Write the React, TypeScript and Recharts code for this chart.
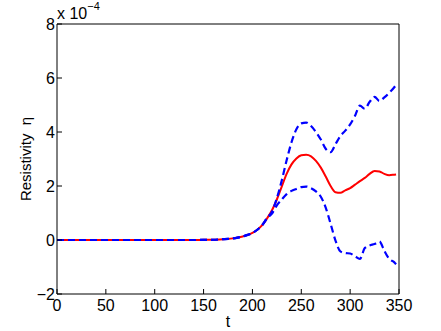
import { LineChart, Line, XAxis, YAxis } from "recharts";

// time samples (t) and resistivity values in units of 1e-4
const tValues = [
  0, 50, 100, 140, 150, 160, 170, 175, 180, 185, 190, 195, 200, 205, 210, 215, 220, 225, 230, 235,
  240, 245, 250, 255, 260, 265, 270, 275, 280, 285, 290, 295, 300, 305, 310, 315, 320, 325, 330, 335,
  340, 345, 347,
];
const etaMean = [
  0, 0, 0, 0, 0.005, 0.01, 0.03, 0.04, 0.06, 0.09, 0.13, 0.19, 0.26, 0.38, 0.55, 0.8, 1.1, 1.5, 1.98, 2.45,
  2.8, 3.02, 3.14, 3.16, 3.1, 2.93, 2.68, 2.35, 2.0, 1.77, 1.75, 1.84, 1.92, 2.05, 2.18, 2.3, 2.45, 2.56, 2.54, 2.45,
  2.4, 2.42, 2.43,
];
const etaUpper = [
  0, 0, 0, 0, 0.005, 0.01, 0.03, 0.04, 0.06, 0.09, 0.13, 0.19, 0.26, 0.38, 0.55, 0.82, 1.05, 1.55, 2.2, 2.95,
  3.62, 4.1, 4.32, 4.35, 4.22, 4.0, 3.72, 3.38, 3.25, 3.55, 3.85, 4.05, 4.28, 4.6, 4.98, 4.86, 5.12, 5.3, 5.15, 5.28,
  5.45, 5.65, 5.74,
];
const etaLower = [
  0, 0, 0, 0, 0.005, 0.01, 0.03, 0.04, 0.06, 0.09, 0.13, 0.19, 0.26, 0.38, 0.55, 0.8, 0.98, 1.28, 1.5, 1.7,
  1.82, 1.89, 1.96, 1.98, 1.92, 1.8, 1.6, 1.2, 0.6, -0.02, -0.42, -0.48, -0.5, -0.6, -0.7, -0.3, -0.2, -0.15, -0.06, -0.4,
  -0.7, -0.82, -0.9,
];
const xTicks = [0, 50, 100, 150, 200, 250, 300, 350];
const yTicks = [-2, 0, 2, 4, 6, 8];

const data = tValues.map((t, i) => ({ t, mean: etaMean[i], upper: etaUpper[i], lower: etaLower[i] }));

const font = "'Liberation Sans', Arial, Helvetica, sans-serif";
const tickStyle = { fill: "#000", fontSize: 16, fontFamily: font };
const fmt = (v: number) => (v < 0 ? `\u2212${-v}` : `${v}`);

export default function App() {
  return (
    <div style={{ position: "fixed", left: 0, top: 0, width: 441, height: 331, background: "#fff", fontFamily: font }}>
      <LineChart width={441} height={331} data={data} margin={{ top: 23, right: 41, bottom: 0, left: 0 }}>
        <XAxis
          dataKey="t"
          type="number"
          domain={[0, 350]}
          ticks={xTicks}
          height={37}
          tick={tickStyle}
          tickSize={-5}
          tickMargin={11}
          stroke="#000"
          label={{ value: "t", position: "insideBottom", offset: 4, fontSize: 16, fill: "#000", fontFamily: font }}
        />
        <XAxis xAxisId="top" dataKey="t" orientation="top" type="number" domain={[0, 350]} ticks={xTicks} height={1} tick={false} tickSize={-5} stroke="#000" />
        <YAxis
          type="number"
          domain={[-2, 8]}
          ticks={yTicks}
          width={57}
          tick={tickStyle}
          tickSize={-5}
          tickMargin={7}
          tickFormatter={fmt}
          stroke="#000"
        />
        <YAxis yAxisId="right" orientation="right" type="number" domain={[-2, 8]} ticks={yTicks} width={1} tick={false} tickSize={-5} stroke="#000" />
        {/* invisible copy bound to the top/right axes so the box frame is drawn */}
        <Line xAxisId="top" yAxisId="right" dataKey="mean" stroke="none" dot={false} isAnimationActive={false} />
        <Line type="monotone" dataKey="mean" stroke="#ff0000" strokeWidth={2} dot={false} isAnimationActive={false} />
        <Line type="monotone" dataKey="upper" stroke="#0000ff" strokeWidth={2.2} strokeDasharray="7 4" dot={false} isAnimationActive={false} />
        <Line type="monotone" dataKey="lower" stroke="#0000ff" strokeWidth={2.2} strokeDasharray="7 4" dot={false} isAnimationActive={false} />
      </LineChart>
      <div style={{ position: "absolute", left: 57, top: 6, fontSize: 16, lineHeight: "16px", whiteSpace: "nowrap" }}>
        x 10<span style={{ fontSize: 11, position: "relative", top: -9 }}>{"\u2212"}4</span>
      </div>
      <div
        style={{
          position: "absolute",
          left: 25,
          top: 159,
          fontSize: 15,
          whiteSpace: "pre",
          transform: "translate(-50%, -50%) rotate(-90deg)",
        }}
      >
        {"Resistivity  \u03b7"}
      </div>
    </div>
  );
}
